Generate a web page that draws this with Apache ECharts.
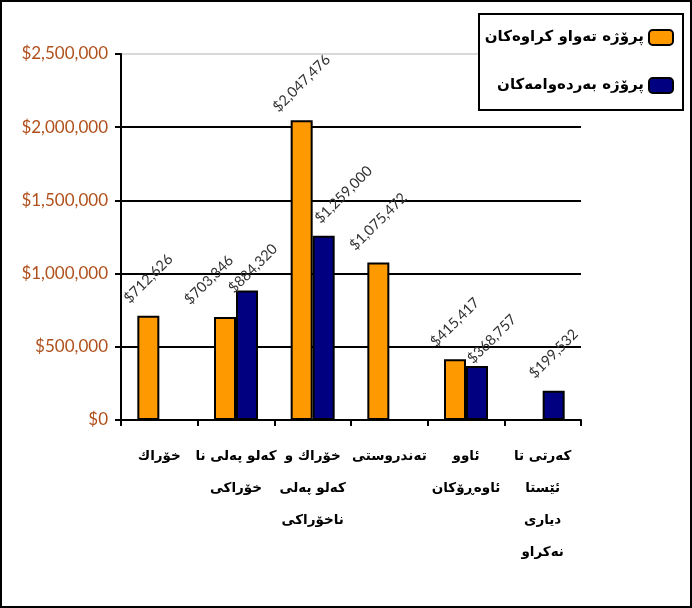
<!DOCTYPE html>
<html>
<head>
<meta charset="utf-8">
<script src="https://cdn.jsdelivr.net/npm/echarts@6/dist/echarts.min.js"></script>
<style>
  html, body { margin: 0; padding: 0; background: #fff; }
  #main { width: 692px; height: 608px; box-sizing: border-box; border: 2px solid #000; }
</style>
</head>
<body>
<div id="main"></div>
<script>
// ناوی کەرتەکان و بڕی پارە
var categories = ['خۆراك', 'کەلو پەلی نا\nخۆراکی', 'خۆراك و\nکەلو پەلی\nناخۆراکی', 'تەندروستی', 'ئاوو\nئاوەڕۆکان', 'کەرتی تا\nئێستا\nدیاری\nنەکراو'];
var seriesNames = ['پرۆژە تەواو کراوەکان', 'پرۆژە بەردەوامەکان'];
var doneData = [712626, 703346, 2047476, 1075472, 415417, null];
var ongoingData = [null, 884320, 1259000, null, 368757, 199532];
var yMax = 2500000;
var yStep = 500000;

// label nudges (screen px) where the labels would collide, like in the original
var doneShift = { 1: [-16, 0], 3: [0, -4] };
var ongoingShift = { 1: [6, 15], 2: [20, -4], 4: [15, 10] };

function money(v) {
  return '$' + Number(v).toLocaleString('en-US');
}

// label offset is applied in the rotated (45°) frame, so turn screen px into it
function toLocal(d) {
  var c = Math.SQRT1_2;
  return [c * (d[0] - d[1]), c * (d[0] + d[1])];
}

function withShift(arr, shift) {
  return arr.map(function (v, i) {
    if (v == null || !shift[i]) return v;
    return { value: v, label: { offset: toLocal(shift[i]) } };
  });
}

var myChart = echarts.init(document.getElementById('main'));

var barLabel = {
  show: true,
  position: 'top',
  rotate: 45,
  align: 'center',
  verticalAlign: 'middle',
  distance: 37,
  fontFamily: 'Lato',
  fontSize: 14.5,
  color: '#333',
  formatter: function (p) { return money(p.value); }
};

var legendText = { fontFamily: 'DejaVu Sans', fontWeight: 'bold', fontSize: 15, color: '#000' };

var option = {
  animation: false,
  grid: { left: 119, right: 109, top: 52, bottom: 186 },
  graphic: [{
    type: 'rect',
    shape: { x: 477, y: 12, width: 204, height: 96 },
    style: { fill: '#fff', stroke: '#000', lineWidth: 2 },
    z: 90
  }],
  legend: [{
    data: [seriesNames[0]],
    right: 11, top: 22,
    align: 'right',
    itemWidth: 24, itemHeight: 15,
    itemGap: 4,
    z: 100,
    textStyle: legendText
  }, {
    data: [seriesNames[1]],
    right: 11, top: 70,
    align: 'right',
    itemWidth: 24, itemHeight: 15,
    z: 100,
    textStyle: legendText
  }],
  xAxis: {
    type: 'category',
    data: categories,
    axisLine: { lineStyle: { color: '#000', width: 2 } },
    axisTick: { show: true, length: 6, lineStyle: { color: '#000', width: 2 } },
    axisLabel: {
      interval: 0,
      margin: 20,
      lineHeight: 32,
      fontFamily: 'DejaVu Sans',
      fontWeight: 'bold',
      fontSize: 13.5,
      color: '#000'
    }
  },
  yAxis: {
    type: 'value',
    min: 0,
    max: yMax,
    interval: yStep,
    axisLine: { show: true, lineStyle: { color: '#000', width: 2 } },
    axisTick: { show: true, length: 6, lineStyle: { color: '#000', width: 2 } },
    axisLabel: {
      margin: 13,
      fontFamily: 'Lato',
      fontSize: 17,
      color: '#b0501c',
      formatter: function (v) { return money(v); }
    },
    splitLine: {
      show: true,
      lineStyle: { color: ['#000', '#000', '#000', '#000', '#000', '#d9d9d9'], width: 2 }
    }
  },
  series: [{
    name: seriesNames[0],
    type: 'bar',
    barWidth: 22,
    barGap: '0%',
    data: withShift(doneData, doneShift),
    itemStyle: { color: '#ff9900', borderColor: '#000', borderWidth: 2 },
    label: barLabel
  }, {
    name: seriesNames[1],
    type: 'bar',
    barWidth: 22,
    barGap: '0%',
    data: withShift(ongoingData, ongoingShift),
    itemStyle: { color: '#000080', borderColor: '#000', borderWidth: 2 },
    label: barLabel
  }]
};

myChart.setOption(option);
</script>
</body>
</html>
